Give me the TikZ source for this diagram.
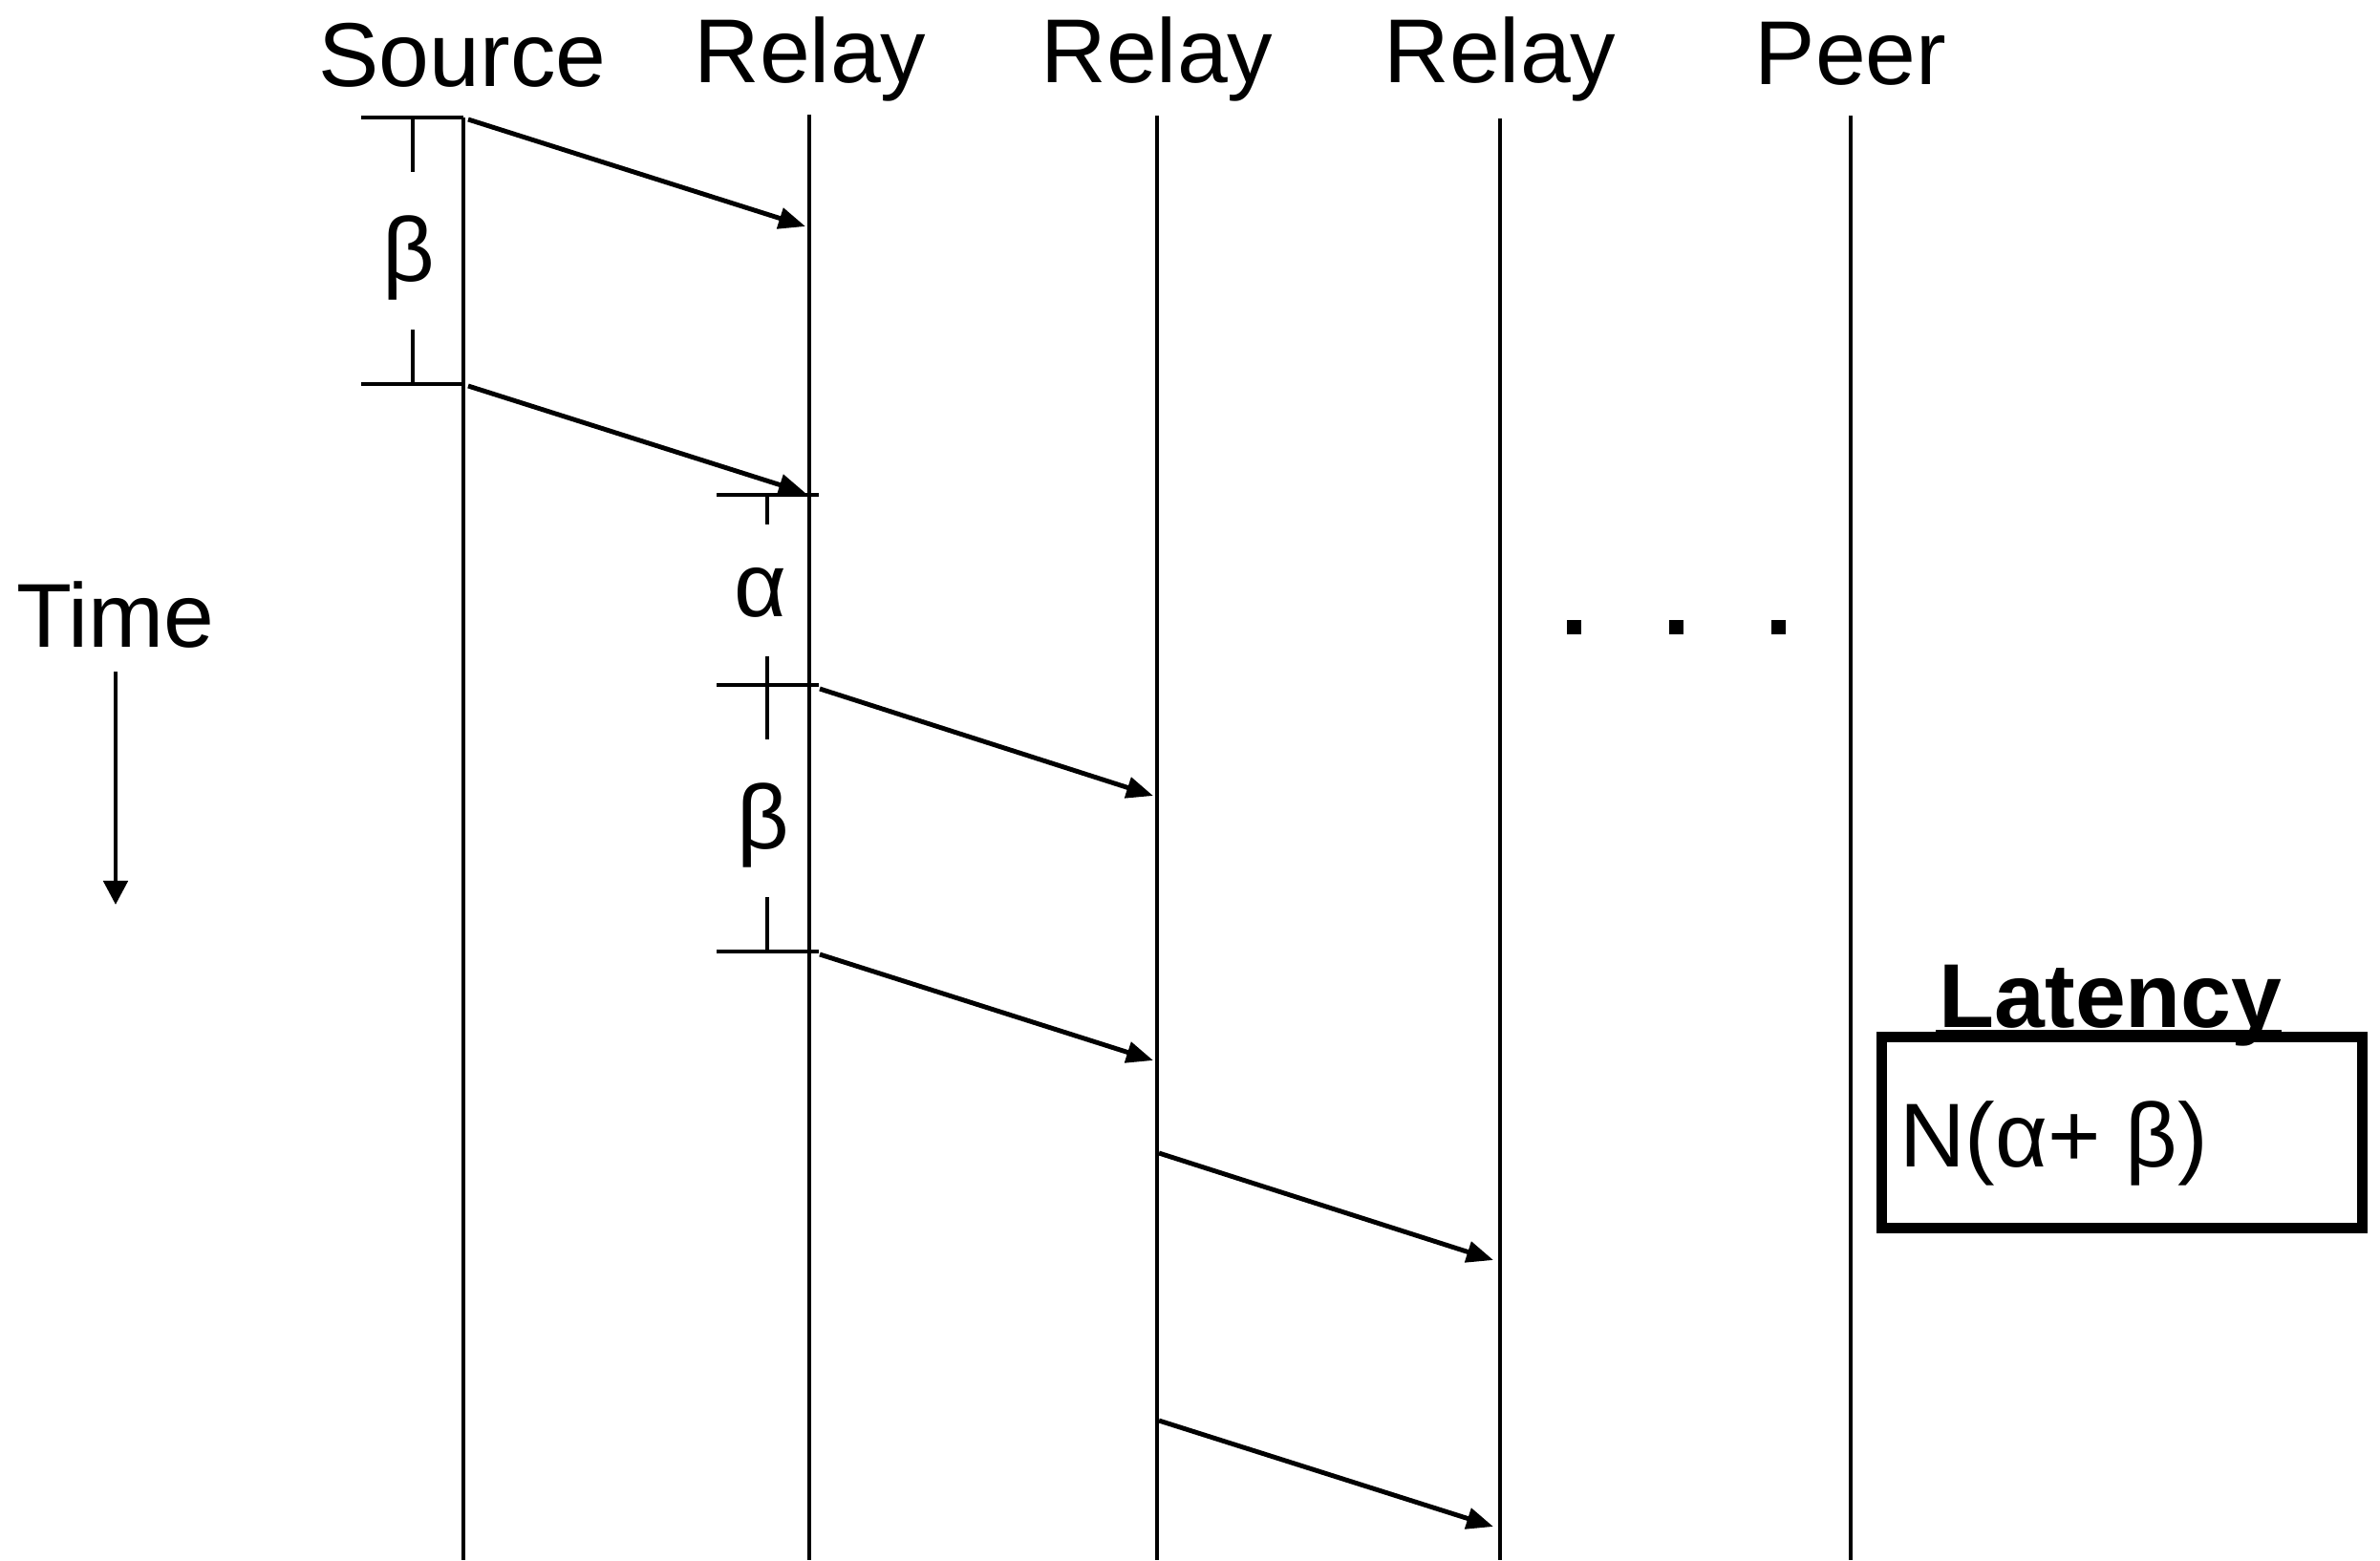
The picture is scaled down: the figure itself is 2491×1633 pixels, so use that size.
\documentclass[tikz,border=0pt]{standalone}
\usepackage{fontspec}
\setmainfont{Liberation Sans}
\usetikzlibrary{arrows.meta}
\begin{document}
\begin{tikzpicture}[x=0.01cm,y=-0.01cm,
  lifeline/.style={line width=1.4pt},
  tickline/.style={line width=1.4pt},
  msg/.style={line width=1.4pt,-{Triangle[length=0.28cm,width=0.22cm]}},
  lbl/.style={font=\fontsize{27}{31}\selectfont, inner sep=0pt, outer sep=0pt},
  dotsq/.style={fill=black, minimum size=0.15cm, inner sep=0pt, outer sep=0pt}]
\useasboundingbox (0,0) rectangle (2491,1633);

% headers
\node[lbl, anchor=base] (S)  at (484,90) {Source};
\node[lbl, anchor=base] (R1) at (848,87) {Relay};
\node[lbl, anchor=base] (R2) at (1211,87) {Relay};
\node[lbl, anchor=base] (R3) at (1570,87) {Relay};
\node[lbl, anchor=base] (P)  at (1937,88) {Peer};

% lifelines
\coordinate (Stop) at (485,123);  \coordinate (Sbot) at (485,1633);
\coordinate (R1top) at (847,120); \coordinate (R1bot) at (847,1633);
\coordinate (R2top) at (1211,121);\coordinate (R2bot) at (1211,1633);
\coordinate (R3top) at (1570,124);\coordinate (R3bot) at (1570,1633);
\coordinate (Ptop) at (1937,121); \coordinate (Pbot) at (1937,1633);
\foreach \n in {S,R1,R2,R3,P}{\draw[lifeline] (\n top) -- (\n bot);}

% source beta ticks
\draw[tickline] (378,123) -- (485,123);
\draw[tickline] (432,123) -- (432,180);
\draw[tickline] (432,345) -- (432,402);
\draw[tickline] (378,402) -- (485,402);
\node[lbl] (b1) at (428,270) {β};

% relay1 ticks
\draw[tickline] (750,518) -- (857,518);
\draw[tickline] (803,518) -- (803,549);
\node[lbl] (a1) at (796,620) {α};
\draw[tickline] (750,717) -- (857,717);
\draw[tickline] (803,687) -- (803,774);
\node[lbl] (b2) at (799,864) {β};
\draw[tickline] (803,939) -- (803,996);
\draw[tickline] (750,996) -- (857,996);

% messages
\coordinate (m1s) at (490,125);  \coordinate (m1e) at (843,237);
\coordinate (m2s) at (490,404);  \coordinate (m2e) at (843,516);
\coordinate (m3s) at (858,721);  \coordinate (m3e) at (1207,833);
\coordinate (m4s) at (858,999);  \coordinate (m4e) at (1207,1110);
\coordinate (m5s) at (1213,1207);\coordinate (m5e) at (1563,1319);
\coordinate (m6s) at (1213,1487);\coordinate (m6e) at (1563,1598);
\foreach \i in {1,...,6}{\draw[msg] (m\i s) -- (m\i e);}

% dots
\node[dotsq] (d1) at (1647,656) {};
\node[dotsq] (d2) at (1754,656) {};
\node[dotsq] (d3) at (1861,656) {};

% time
\node[lbl, anchor=base] (T) at (121,677) {Time};
\coordinate (Ts) at (121,703);
\coordinate (Te) at (121,947);
\draw[line width=1.4pt,-{Triangle[length=0.25cm,width=0.25cm]}] (Ts) -- (Te);

% latency
\node[lbl, anchor=base, font=\fontsize{27}{31}\selectfont\bfseries] (L) at (2209,1075) {Latency};
\draw[line width=0.8pt] (2026,1079) -- (2388,1079);
\node[draw, line width=3.1pt, minimum width=5.035cm, minimum height=2.0cm, inner sep=0pt] (box) at (2221,1185.5) {};
\node[lbl, anchor=base west] (N) at (1988,1221) {N(α+ β)};
\end{tikzpicture}
\end{document}
